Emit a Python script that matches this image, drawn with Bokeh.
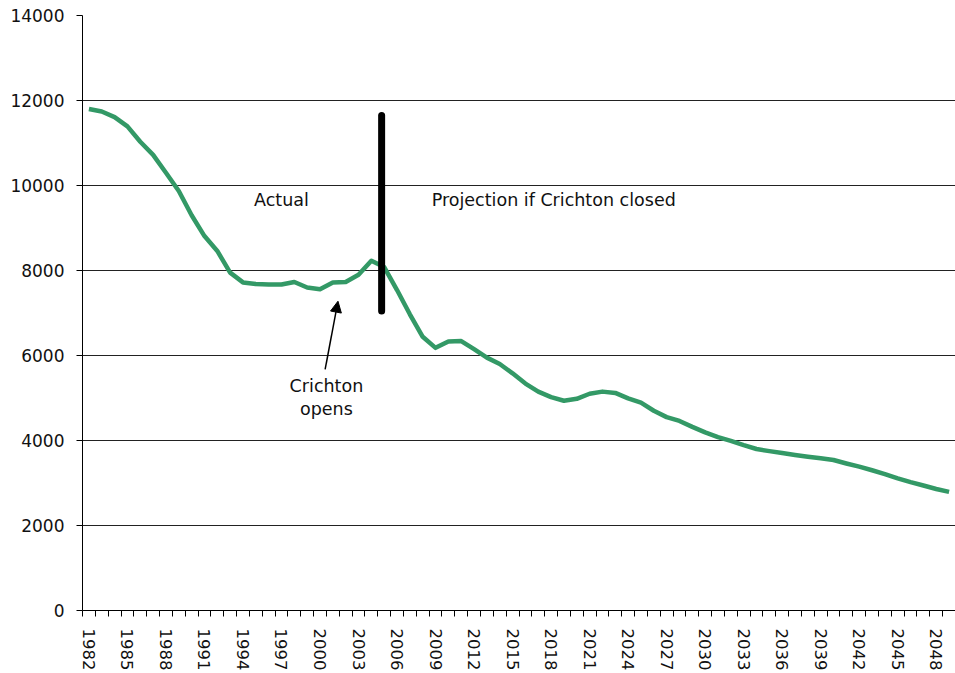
from bokeh.plotting import figure
from bokeh.models import Range1d, FixedTicker, Arrow, NormalHead
from bokeh.core.properties import value
from bokeh.embed import file_html
from bokeh.resources import INLINE

years = list(range(1982, 2050))
population = [
    11800, 11740, 11610, 11390, 11030, 10720, 10300, 9870, 9300, 8810,
    8460, 7950, 7720, 7680, 7670, 7670, 7730, 7600, 7560, 7720,
    7730, 7900, 8230, 8080, 7540, 6970, 6440, 6180, 6330, 6340,
    6150, 5950, 5800, 5580, 5340, 5150, 5020, 4935, 4980, 5100,
    5150, 5120, 4990, 4890, 4700, 4550, 4460, 4320, 4190, 4080,
    3990, 3890, 3800, 3750, 3705, 3660, 3620, 3580, 3540, 3460,
    3385, 3300, 3210, 3110, 3020, 2940, 2860, 2790,
]
label_years = list(range(1982, 2050, 3))
y_ticks = list(range(0, 14001, 2000))

divider_year = 2004.8
divider_low, divider_high = 7050, 11650

actual_label = ("Actual", 1997.0, 9660)
projection_label = ("Projection if Crichton closed", 2008.7, 9660)
opens_lines = [("Crichton", 2000.5, 5283), ("opens", 2000.5, 4737)]
arrow_tail = (2000.4, 5675)
arrow_tip = (2001.4, 7277)

FONT = "DejaVu Sans"
FS = "17px"
ANN_FS = "17.5px"

p = figure(width=955, height=673,
           x_range=Range1d(1981.5, 2049.5), y_range=Range1d(0, 14000),
           output_backend="svg", toolbar_location=None,
           min_border_left=82, min_border_right=0, min_border_top=15,
           min_border_bottom=0)
p.outline_line_color = None
p.background_fill_color = "white"
p.border_fill_color = "white"

p.xgrid.visible = False
p.ygrid.grid_line_color = "#222222"
p.ygrid.grid_line_width = 1
p.yaxis.ticker = FixedTicker(ticks=y_ticks)
p.xaxis.ticker = FixedTicker(ticks=label_years,
                             minor_ticks=[y - 0.5 for y in years] + [years[-1] + 0.5])
p.ygrid.ticker = FixedTicker(ticks=y_ticks)

for ax in (p.xaxis[0], p.yaxis[0]):
    ax.axis_line_color = "black"
    ax.axis_line_width = 1
    ax.major_label_text_font = FONT
    ax.major_label_text_font_size = FS
    ax.major_label_text_color = "#111111"
    ax.major_tick_line_color = "black"
    ax.minor_tick_line_color = "black"
    ax.major_tick_in = 0
    ax.minor_tick_in = 0

p.xaxis.major_tick_out = 0
p.xaxis.minor_tick_out = 6
p.xaxis.major_label_orientation = "vertical"
p.xaxis.major_label_standoff = 12
p.xaxis.major_label_text_font_size = "16.5px"
p.yaxis.major_tick_out = 6
p.yaxis.minor_tick_out = 0
p.yaxis.major_label_standoff = 12

p.line(years, population, line_color="#339966", line_width=4.5, line_join="round")

p.segment(x0=[divider_year], y0=[divider_low], x1=[divider_year], y1=[divider_high],
          line_color="black", line_width=7, line_cap="round")

p.text(x=[actual_label[1]], y=[actual_label[2]], text=[actual_label[0]],
       text_font=value(FONT), text_font_size=ANN_FS, text_align="center",
       text_baseline="middle", text_color="#111111")
p.text(x=[projection_label[1]], y=[projection_label[2]], text=[projection_label[0]],
       text_font=value(FONT), text_font_size=ANN_FS, text_align="left",
       text_baseline="middle", text_color="#111111")
p.text(x=[t[1] for t in opens_lines], y=[t[2] for t in opens_lines],
       text=[t[0] for t in opens_lines],
       text_font=value(FONT), text_font_size=ANN_FS, text_align="center",
       text_baseline="middle", text_color="#111111")

p.add_layout(Arrow(end=NormalHead(size=11, fill_color="black", line_color="black"),
                   x_start=arrow_tail[0], y_start=arrow_tail[1],
                   x_end=arrow_tip[0], y_end=arrow_tip[1],
                   line_color="black", line_width=1.5))

open("out.html", "w").write(file_html(p, INLINE))
